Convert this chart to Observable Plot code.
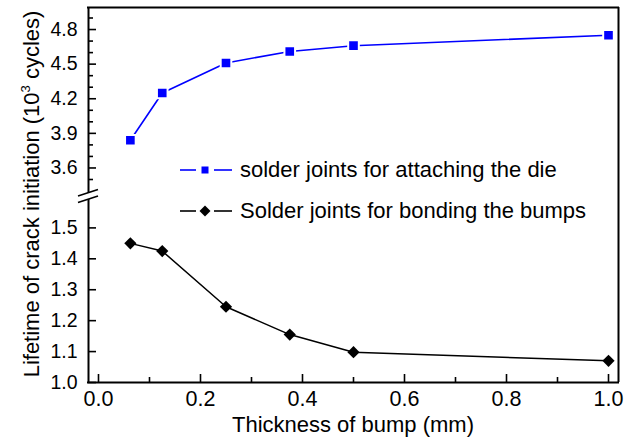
<!DOCTYPE html>
<html>
<head>
<meta charset="utf-8">
<script src="https://cdn.jsdelivr.net/npm/d3@7"></script>
<script src="https://cdn.jsdelivr.net/npm/@observablehq/plot@0.6"></script>
<style>
  body { margin: 0; background: #fff; }
  #chart { position: relative; width: 632px; height: 440px; background: #fff;
           font-family: "Liberation Sans", Arial, sans-serif; color: #000; overflow: hidden; }
  .abs { position: absolute; }
  #chart svg { overflow: visible; }
</style>
</head>
<body>
<div id="chart"></div>
<script>
// ---- data ----
const thickness = [0.0625, 0.125, 0.25, 0.375, 0.5, 1.0];
const lifetimeDie = [3.84, 4.25, 4.51, 4.61, 4.66, 4.75];
const lifetimeBump = [1.45, 1.425, 1.245, 1.155, 1.098, 1.07];
const seriesNames = ["solder joints for attaching the die", "Solder joints for bonding the bumps"];
const xMajorTicks = [0, 0.2, 0.4, 0.6, 0.8, 1.0];
const xMinorTicks = [0.1, 0.3, 0.5, 0.7, 0.9];
const yTopMajorTicks = [3.6, 3.9, 4.2, 4.5, 4.8];
const yTopMinorTicks = [3.5, 3.7, 3.8, 4.0, 4.1, 4.3, 4.4, 4.6, 4.7, 4.9];
const yBottomTicks = [1.0, 1.1, 1.2, 1.3, 1.4, 1.5];
const xTitle = "Thickness of bump (mm)";
const yTitleMain = "Lifetime of crack initiation (10";
const yTitleSup = "3";
const yTitleEnd = " cycles)";

// ---- layout ----
const W = 632, ML = 88, MR = 14, TOP = 7, SPLIT = 194, BOTTOM = 382, H = 440;
const xDomain = [-0.0196, 1.0196];
const yTopDomain = [3.370, 4.991];
const yBotDomain = [1.0, 1.608];
const blue = "#0000ff";
const fmt = d3.format(".1f");

const dieData = thickness.map((t, i) => ({t, v: lifetimeDie[i]}));
const bumpData = thickness.map((t, i) => ({t, v: lifetimeBump[i]}));

const chart = document.getElementById("chart");

const topPlot = Plot.plot({
  width: W, height: SPLIT,
  marginLeft: ML, marginRight: MR, marginTop: TOP, marginBottom: 0,
  style: {background: "transparent", fontFamily: "Liberation Sans, Arial, sans-serif", color: "#000"},
  x: {domain: xDomain, axis: null},
  y: {domain: yTopDomain, label: null},
  marks: [
    Plot.axisY({ticks: yTopMajorTicks, tickSize: 8, dx: 8, fill: "none", strokeWidth: 1.6, label: null}),
    Plot.axisY({ticks: yTopMinorTicks, tickSize: 5, dx: 5, fill: "none", strokeWidth: 1.6, label: null}),
    Plot.axisY({ticks: yTopMajorTicks, tickSize: 0, tickPadding: 11, tickFormat: fmt, fontSize: 19.5, label: null}),
    Plot.line(dieData, {x: "t", y: "v", stroke: blue, strokeWidth: 1.6}),
    Plot.dot(dieData, {x: "t", y: "v", symbol: "square", r: 6, fill: blue, stroke: "white", strokeWidth: 2}),
    Plot.ruleX(xDomain, {strokeWidth: 2, stroke: "#000"}),
    Plot.ruleY([yTopDomain[1]], {strokeWidth: 2, stroke: "#000", strokeLinecap: "square"})
  ]
});
topPlot.classList.add("abs");
topPlot.style.left = "0px";
topPlot.style.top = "0px";
chart.appendChild(topPlot);

const botPlot = Plot.plot({
  width: W, height: H - SPLIT,
  marginLeft: ML, marginRight: MR, marginTop: 0, marginBottom: H - BOTTOM,
  style: {background: "transparent", fontFamily: "Liberation Sans, Arial, sans-serif", color: "#000"},
  x: {domain: xDomain, label: null},
  y: {domain: yBotDomain, label: null},
  marks: [
    Plot.axisY({ticks: yBottomTicks, tickSize: 8, dx: 8, fill: "none", strokeWidth: 1.6, label: null}),
    Plot.axisY({ticks: yBottomTicks, tickSize: 0, tickPadding: 11, tickFormat: fmt, fontSize: 19.5, label: null}),
    Plot.axisX({ticks: xMajorTicks, tickSize: 8, dy: -8, fill: "none", strokeWidth: 1.6, label: null}),
    Plot.axisX({ticks: xMinorTicks, tickSize: 5, dy: -5, fill: "none", strokeWidth: 1.6, label: null}),
    Plot.axisX({ticks: xMajorTicks, tickSize: 0, tickPadding: 8, tickFormat: fmt, fontSize: 21.5, label: null}),
    Plot.line(bumpData, {x: "t", y: "v", stroke: "#000", strokeWidth: 1.5}),
    Plot.dot(bumpData, {x: "t", y: "v", symbol: "diamond2", r: 5.5, fill: "#000"}),
    Plot.ruleX(xDomain, {strokeWidth: 2, stroke: "#000"}),
    Plot.ruleY([yBotDomain[0]], {strokeWidth: 2, stroke: "#000", strokeLinecap: "square"})
  ]
});
botPlot.classList.add("abs");
botPlot.style.left = "0px";
botPlot.style.top = SPLIT + "px";
chart.appendChild(botPlot);

// ---- axis break marks ----
const ns = "http://www.w3.org/2000/svg";
const brk = document.createElementNS(ns, "svg");
brk.setAttribute("width", W); brk.setAttribute("height", H);
brk.setAttribute("class", "abs");
brk.style.left = "0px"; brk.style.top = "0px"; brk.style.pointerEvents = "none";
brk.innerHTML = `
  <polygon points="78,196 98,189.5 98,196 78,202.5" fill="#fff"/>
  <line x1="78" y1="196" x2="98" y2="189.5" stroke="#000" stroke-width="1.6"/>
  <line x1="78" y1="202.5" x2="98" y2="196" stroke="#000" stroke-width="1.6"/>`;
chart.appendChild(brk);

// ---- legend ----
const legendRows = [
  {name: seriesNames[0], color: blue, marker: "square", y: 170},
  {name: seriesNames[1], color: "#000", marker: "diamond", y: 211}
];
legendRows.forEach(row => {
  const s = document.createElementNS(ns, "svg");
  s.setAttribute("width", 60); s.setAttribute("height", 20);
  s.setAttribute("class", "abs");
  s.style.left = "176px"; s.style.top = (row.y - 10) + "px";
  const markerSvg = row.marker === "square"
    ? `<rect x="25.5" y="6.5" width="7" height="7" fill="${row.color}"/>`
    : `<path d="M29,4.5 L34.5,10 L29,15.5 L23.5,10 Z" fill="${row.color}"/>`;
  s.innerHTML = `<line x1="4" y1="10" x2="20" y2="10" stroke="${row.color}" stroke-width="1.6"/>
    <line x1="38" y1="10" x2="56" y2="10" stroke="${row.color}" stroke-width="1.6"/>${markerSvg}`;
  chart.appendChild(s);
  const t = document.createElement("div");
  t.className = "abs";
  t.textContent = row.name;
  t.style.left = "240px";
  t.style.top = (row.y - 13) + "px";
  t.style.fontSize = "22px";
  t.style.lineHeight = "26px";
  t.style.whiteSpace = "nowrap";
  chart.appendChild(t);
});

// ---- axis titles ----
const xt = document.createElement("div");
xt.className = "abs";
xt.textContent = xTitle;
xt.style.cssText += "left:353px;top:425px;transform:translate(-50%,-50%);font-size:22px;white-space:nowrap;line-height:26px;";
chart.appendChild(xt);

const yt = document.createElement("div");
yt.className = "abs";
yt.innerHTML = `${yTitleMain}<sup style="font-size:13px;vertical-align:9px">${yTitleSup}</sup>${yTitleEnd}`;
yt.style.cssText += "left:29px;top:194px;transform:translate(-50%,-50%) rotate(-90deg);font-size:22px;white-space:nowrap;line-height:26px;";
chart.appendChild(yt);
</script>
</body>
</html>
